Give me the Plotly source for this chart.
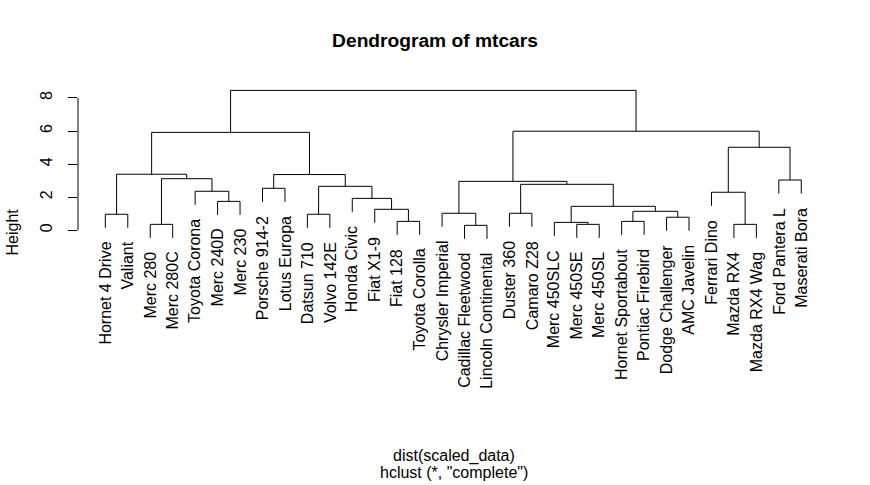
import plotly.graph_objects as go

# Leaf labels in display order
leaf_labels = [
    "Hornet 4 Drive", "Valiant", "Merc 280", "Merc 280C", "Toyota Corona",
    "Merc 240D", "Merc 230", "Porsche 914-2", "Lotus Europa", "Datsun 710",
    "Volvo 142E", "Honda Civic", "Fiat X1-9", "Fiat 128", "Toyota Corolla",
    "Chrysler Imperial", "Cadillac Fleetwood", "Lincoln Continental", "Duster 360",
    "Camaro Z28", "Merc 450SLC", "Merc 450SE", "Merc 450SL", "Hornet Sportabout",
    "Pontiac Firebird", "Dodge Challenger", "AMC Javelin", "Ferrari Dino",
    "Mazda RX4", "Mazda RX4 Wag", "Ford Pantera L", "Maserati Bora",
]

# Merge steps (R convention): negative = leaf (1-based display index), positive = earlier merge step
merge_left = [-17, -3, -22, -29, -21, -14, -24, -26, -1, -10, -16, -19, 7, -13, 5, -6,
              -12, -28, -5, -8, 10, 12, 11, -31, 2, 9, 20, 18, 26, 23, 29]
merge_right = [-18, -4, -23, -30, 3, -15, -25, -27, -2, -11, 1, -20, 8, 6, 13, -7,
               14, 4, 16, -9, 17, 15, 22, -32, 19, 25, 21, 24, 27, 28, 30]
merge_height = [0.30, 0.36, 0.36, 0.36, 0.48, 0.54, 0.54, 0.79, 0.97, 0.97, 1.03, 1.03,
                1.15, 1.27, 1.45, 1.75, 1.93, 2.30, 2.36, 2.54, 2.66, 2.78, 2.96, 3.04,
                3.12, 3.39, 3.37, 5.02, 5.92, 5.99, 8.46]

y_ticks = [0, 2, 4, 6, 8]

title_text = "Dendrogram of mtcars"
y_title = "Height"
x_title_1 = "dist(scaled_data)"
x_title_2 = 'hclust (*, "complete")'

hang = 0.1 * (max(merge_height) - min(merge_height))

node_x = {}
leaf_bottom = {}
xs, ys = [], []


def child_pos(c, h):
    if c < 0:
        idx = -c
        yb = h - hang
        leaf_bottom[idx] = yb
        return float(idx), yb
    return node_x[c], merge_height[c - 1]


for i, (a, b, h) in enumerate(zip(merge_left, merge_right, merge_height), start=1):
    xa, ya = child_pos(a, h)
    xb, yb = child_pos(b, h)
    node_x[i] = (xa + xb) / 2
    xs += [xa, xa, xb, xb, None]
    ys += [ya, h, h, yb, None]

fig = go.Figure()
fig.add_trace(go.Scatter(x=xs, y=ys, mode="lines",
                         line=dict(color="black", width=1),
                         hoverinfo="skip", showlegend=False))

font_family = "Liberation Sans, Arial, sans-serif"
annotations = []
for i, lab in enumerate(leaf_labels, start=1):
    annotations.append(dict(x=i, y=leaf_bottom[i], xref="x", yref="y", text=lab,
                            textangle=-90, showarrow=False, xanchor="center",
                            yanchor="top", yshift=-12, font=dict(size=16, color="black",
                                                                   family=font_family)))

annotations.append(dict(x=0, y=0.05, xref="paper", yref="paper", text=y_title,
                        textangle=-90, showarrow=False, xanchor="center", yanchor="middle",
                        xshift=-66.5, font=dict(size=16, color="black", family=font_family)))
annotations.append(dict(x=0.5, y=-1.35, xref="paper", yref="paper", text=x_title_1,
                        showarrow=False, xanchor="center", yanchor="middle",
                        font=dict(size=16, color="black", family=font_family)))
annotations.append(dict(x=0.5, y=-1.456, xref="paper", yref="paper", text=x_title_2,
                        showarrow=False, xanchor="center", yanchor="middle",
                        font=dict(size=16, color="black", family=font_family)))

fig.update_layout(
    width=870, height=485,
    margin=dict(l=78, r=40, t=80, b=245),
    paper_bgcolor="white", plot_bgcolor="white",
    hovermode=False,
    title=dict(text="<b>" + title_text + "</b>", x=0.5, xanchor="center",
               y=1 - 40.7 / 485, yanchor="middle",
               font=dict(size=19.2, color="black", family=font_family)),
    xaxis=dict(range=[-0.218, 33.28], visible=False, fixedrange=True),
    yaxis=dict(range=[-0.586, 9.087], tickvals=y_ticks, ticktext=[str(t) for t in y_ticks],
               ticks="outside", ticklen=9, tickcolor="black", tickwidth=1,
               tickangle=-90, showgrid=False, zeroline=False, showline=False,
               fixedrange=True,
               tickfont=dict(size=16, color="black", family=font_family),
               ticklabelstandoff=10),
    annotations=annotations,
    shapes=[dict(type="line", xref="paper", x0=0, x1=0, yref="y", y0=y_ticks[0],
                 y1=y_ticks[-1], line=dict(color="black", width=1))],
)

# remove the default 8px page margin so the figure fills the window exactly
fig.write_html("out.html", config={"displayModeBar": False},
               post_script="document.body.style.margin='0px';")
